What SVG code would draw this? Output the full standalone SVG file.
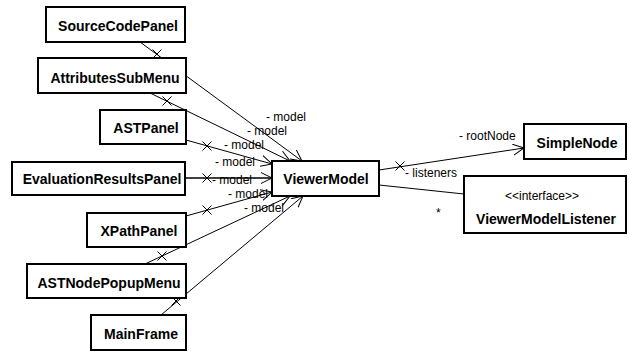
<svg xmlns="http://www.w3.org/2000/svg" width="629" height="352" viewBox="0 0 629 352">
<style>
.box{fill:#fff;stroke:#000;stroke-width:2}
.cn{font-family:"Liberation Sans",Arial,sans-serif;font-size:14px;font-weight:bold;text-anchor:middle;fill:#000}
.st{font-family:"Liberation Sans",Arial,sans-serif;font-size:12px;text-anchor:middle;fill:#000}
.lb{font-family:"Liberation Sans",Arial,sans-serif;font-size:12px;fill:#000}
.ln{stroke:#000;stroke-width:1;fill:none}
.x{stroke:#000;stroke-width:1;fill:none}
</style>
<defs>
<marker id="arr" markerUnits="userSpaceOnUse" markerWidth="14" markerHeight="14" refX="11" refY="6" orient="auto">
<path d="M0,0.5 L11,6 L0,11.5" fill="none" stroke="#000" stroke-width="1"/>
</marker>
<path id="xm" d="M-4.5,-4.5 L4.5,4.5 M-4.5,4.5 L4.5,-4.5"/>
</defs>
<rect width="629" height="352" fill="#fff"/>
<g id="connectors">
<line class="ln" x1="140" y1="42" x2="302" y2="161" marker-end="url(#arr)"/>
<line class="ln" x1="150" y1="93" x2="290" y2="161" marker-end="url(#arr)"/>
<line class="ln" x1="186" y1="140" x2="272" y2="164" marker-end="url(#arr)"/>
<line class="ln" x1="185" y1="178" x2="272" y2="178" marker-end="url(#arr)" style="stroke-width:1.6"/>
<line class="ln" x1="186" y1="216" x2="272" y2="192" marker-end="url(#arr)"/>
<line class="ln" x1="145" y1="264" x2="290" y2="196" marker-end="url(#arr)"/>
<line class="ln" x1="161" y1="315" x2="303" y2="196" marker-end="url(#arr)"/>
<line class="ln" x1="379" y1="170" x2="524" y2="148" marker-end="url(#arr)"/>
<line class="ln" x1="379" y1="185" x2="464" y2="194"/>
<g class="x">
<use href="#xm" x="157" y="54"/>
<use href="#xm" x="167" y="101"/>
<use href="#xm" x="207" y="146"/>
<use href="#xm" x="207" y="178"/>
<use href="#xm" x="207" y="210"/>
<use href="#xm" x="162" y="256"/>
<use href="#xm" x="176" y="301"/>
<use href="#xm" x="400" y="166"/>
</g>
<text class="lb" x="266" y="121">- model</text>
<text class="lb" x="247" y="135">- model</text>
<text class="lb" x="224" y="149">- model</text>
<text class="lb" x="215" y="166">- model</text>
<text class="lb" x="212" y="184">- model</text>
<text class="lb" x="228" y="198">- model</text>
<text class="lb" x="244" y="212">- model</text>
<text class="lb" x="459" y="140">- rootNode</text>
<text class="lb" x="405" y="177">- listeners</text>
<text class="lb" x="436" y="217">*</text>
</g>
<g id="SourceCodePanel"><rect class="box" x="46" y="7" width="139" height="35"/><text class="cn" x="118" y="31">SourceCodePanel</text></g>
<g id="AttributesSubMenu"><rect class="box" x="38" y="58" width="148" height="35"/><text class="cn" x="115" y="83">AttributesSubMenu</text></g>
<g id="ASTPanel"><rect class="box" x="100" y="110" width="86" height="34"/><text class="cn" x="146" y="133">ASTPanel</text></g>
<g id="EvaluationResultsPanel"><rect class="box" x="12" y="162" width="173" height="33"/><text class="cn" x="102" y="184">EvaluationResultsPanel</text></g>
<g id="XPathPanel"><rect class="box" x="87" y="213" width="99" height="34"/><text class="cn" x="139" y="236">XPathPanel</text></g>
<g id="ASTNodePopupMenu"><rect class="box" x="27" y="264" width="159" height="34"/><text class="cn" x="109" y="288">ASTNodePopupMenu</text></g>
<g id="MainFrame"><rect class="box" x="91" y="315" width="95" height="35"/><text class="cn" x="141" y="339">MainFrame</text></g>
<g id="ViewerModel"><rect class="box" x="272" y="161" width="107" height="35"/><text class="cn" x="326" y="184">ViewerModel</text></g>
<g id="SimpleNode"><rect class="box" x="524" y="124" width="102" height="35"/><text class="cn" x="577" y="148">SimpleNode</text></g>
<g id="ViewerModelListener"><rect class="box" x="464" y="176" width="162" height="57"/><text class="st" x="542" y="200">&lt;&lt;interface&gt;&gt;</text><text class="cn" x="546" y="224">ViewerModelListener</text></g>
</svg>
